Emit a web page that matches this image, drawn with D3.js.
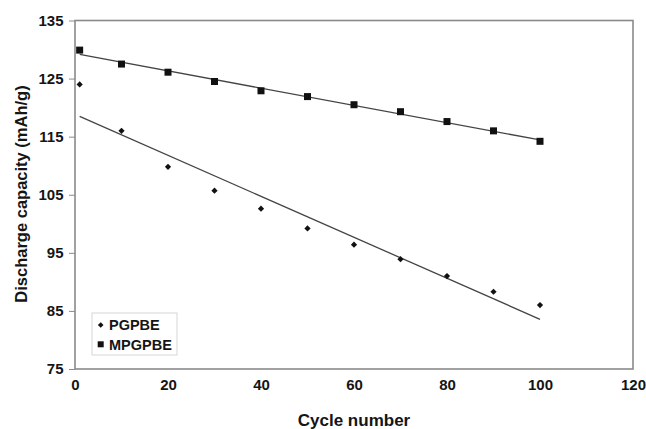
<!DOCTYPE html>
<html>
<head>
<meta charset="utf-8">
<script src="https://cdn.jsdelivr.net/npm/d3@7"></script>
<style>
  body { margin: 0; background: #fff; }
  svg { font-family: "Liberation Sans", Arial, sans-serif; font-weight: bold; }
</style>
</head>
<body>
<div id="chart"></div>
<script>
// cycle numbers and measured capacities (mAh/g)
var cycles = [1, 10, 20, 30, 40, 50, 60, 70, 80, 90, 100];
var pgpbe = [124.0, 116.0, 109.8, 105.7, 102.6, 99.2, 96.4, 93.9, 91.0, 88.3, 86.0];
var mpgpbe = [129.9, 127.5, 126.1, 124.5, 122.9, 121.9, 120.5, 119.3, 117.6, 116.0, 114.2];
var xTicks = [0, 20, 40, 60, 80, 100, 120];
var yTicks = [75, 85, 95, 105, 115, 125, 135];
var seriesNames = ["PGPBE", "MPGPBE"];

var WIDTH = 646, HEIGHT = 429;
var margin = {top: 20.5, right: 13, bottom: 60, left: 75};

var svg = d3.select("#chart").append("svg")
  .attr("width", WIDTH)
  .attr("height", HEIGHT);

var x = d3.scaleLinear().domain([0, 120]).range([margin.left, WIDTH - margin.right]);
var y = d3.scaleLinear().domain([75, 135]).range([HEIGHT - margin.bottom, margin.top]);

// plot frame
svg.append("rect")
  .attr("x", x(0)).attr("y", y(135))
  .attr("width", x(120) - x(0)).attr("height", y(75) - y(135))
  .attr("fill", "none").attr("stroke", "#8a8a8a").attr("stroke-width", 1.6);

// y axis
var yAxis = svg.append("g")
  .attr("transform", "translate(" + x(0) + ",0)")
  .call(d3.axisLeft(y).tickValues(yTicks).tickSize(6).tickPadding(5.5));
yAxis.select(".domain").remove();
yAxis.selectAll("line").attr("stroke", "#8a8a8a");
yAxis.selectAll("text").attr("font-size", 15).attr("fill", "#151515")
  .style("font-family", "Liberation Sans, Arial, sans-serif").style("font-weight", "bold");

// x axis
var xAxis = svg.append("g")
  .attr("transform", "translate(0," + y(75) + ")")
  .call(d3.axisBottom(x).tickValues(xTicks).tickSize(0).tickPadding(10.5));
xAxis.select(".domain").remove();
xAxis.selectAll("text").attr("font-size", 15).attr("fill", "#151515")
  .style("font-family", "Liberation Sans, Arial, sans-serif").style("font-weight", "bold");

// axis titles
svg.append("text")
  .attr("x", (x(0) + x(120)) / 2).attr("y", 426)
  .attr("text-anchor", "middle").attr("font-size", 17).attr("fill", "#151515")
  .text("Cycle number");
svg.append("text")
  .attr("transform", "translate(26.5,194) rotate(-90)")
  .attr("text-anchor", "middle").attr("font-size", 16.5).attr("fill", "#151515")
  .text("Discharge capacity (mAh/g)");

// least squares trend lines
function fit(xs, ys) {
  var mx = d3.mean(xs), my = d3.mean(ys);
  var sxy = d3.sum(xs, function(d, i) { return (d - mx) * (ys[i] - my); });
  var sxx = d3.sum(xs, function(d) { return (d - mx) * (d - mx); });
  var b = sxy / sxx;
  return function(v) { return my + b * (v - mx); };
}
[pgpbe, mpgpbe].forEach(function(vals) {
  var f = fit(cycles, vals);
  var x0 = d3.min(cycles), x1 = d3.max(cycles);
  svg.append("line")
    .attr("x1", x(x0)).attr("y1", y(f(x0)))
    .attr("x2", x(x1)).attr("y2", y(f(x1)))
    .attr("stroke", "#444").attr("stroke-width", 1.3);
});

// markers: small diamonds and squares
svg.append("g").selectAll("rect")
  .data(cycles)
  .join("rect")
  .attr("x", -2.2).attr("y", -2.2)
  .attr("width", 4.4).attr("height", 4.4)
  .attr("transform", function(d, i) { return "translate(" + x(d) + "," + y(pgpbe[i]) + ") rotate(45)"; })
  .attr("fill", "#111");
svg.append("g").selectAll("rect")
  .data(cycles)
  .join("rect")
  .attr("x", function(d) { return x(d) - 3.5; })
  .attr("y", function(d, i) { return y(mpgpbe[i]) - 3.5; })
  .attr("width", 7).attr("height", 7)
  .attr("fill", "#111");

// legend
var legend = svg.append("g").attr("transform", "translate(92,313)");
legend.append("rect")
  .attr("width", 85).attr("height", 42)
  .attr("fill", "#fff").attr("stroke", "#d6d6d6").attr("stroke-width", 1);
legend.append("rect")
  .attr("x", -2).attr("y", -2).attr("width", 4).attr("height", 4)
  .attr("transform", "translate(8.7,12) rotate(45)")
  .attr("fill", "#111");
legend.append("rect")
  .attr("x", 5.7).attr("y", 28.3).attr("width", 6).attr("height", 6)
  .attr("fill", "#111");
legend.selectAll("text")
  .data(seriesNames)
  .join("text")
  .attr("x", 17).attr("y", function(d, i) { return 17 + i * 19.5; })
  .attr("font-size", 14.5).attr("fill", "#151515")
  .text(function(d) { return d; });
</script>
</body>
</html>
